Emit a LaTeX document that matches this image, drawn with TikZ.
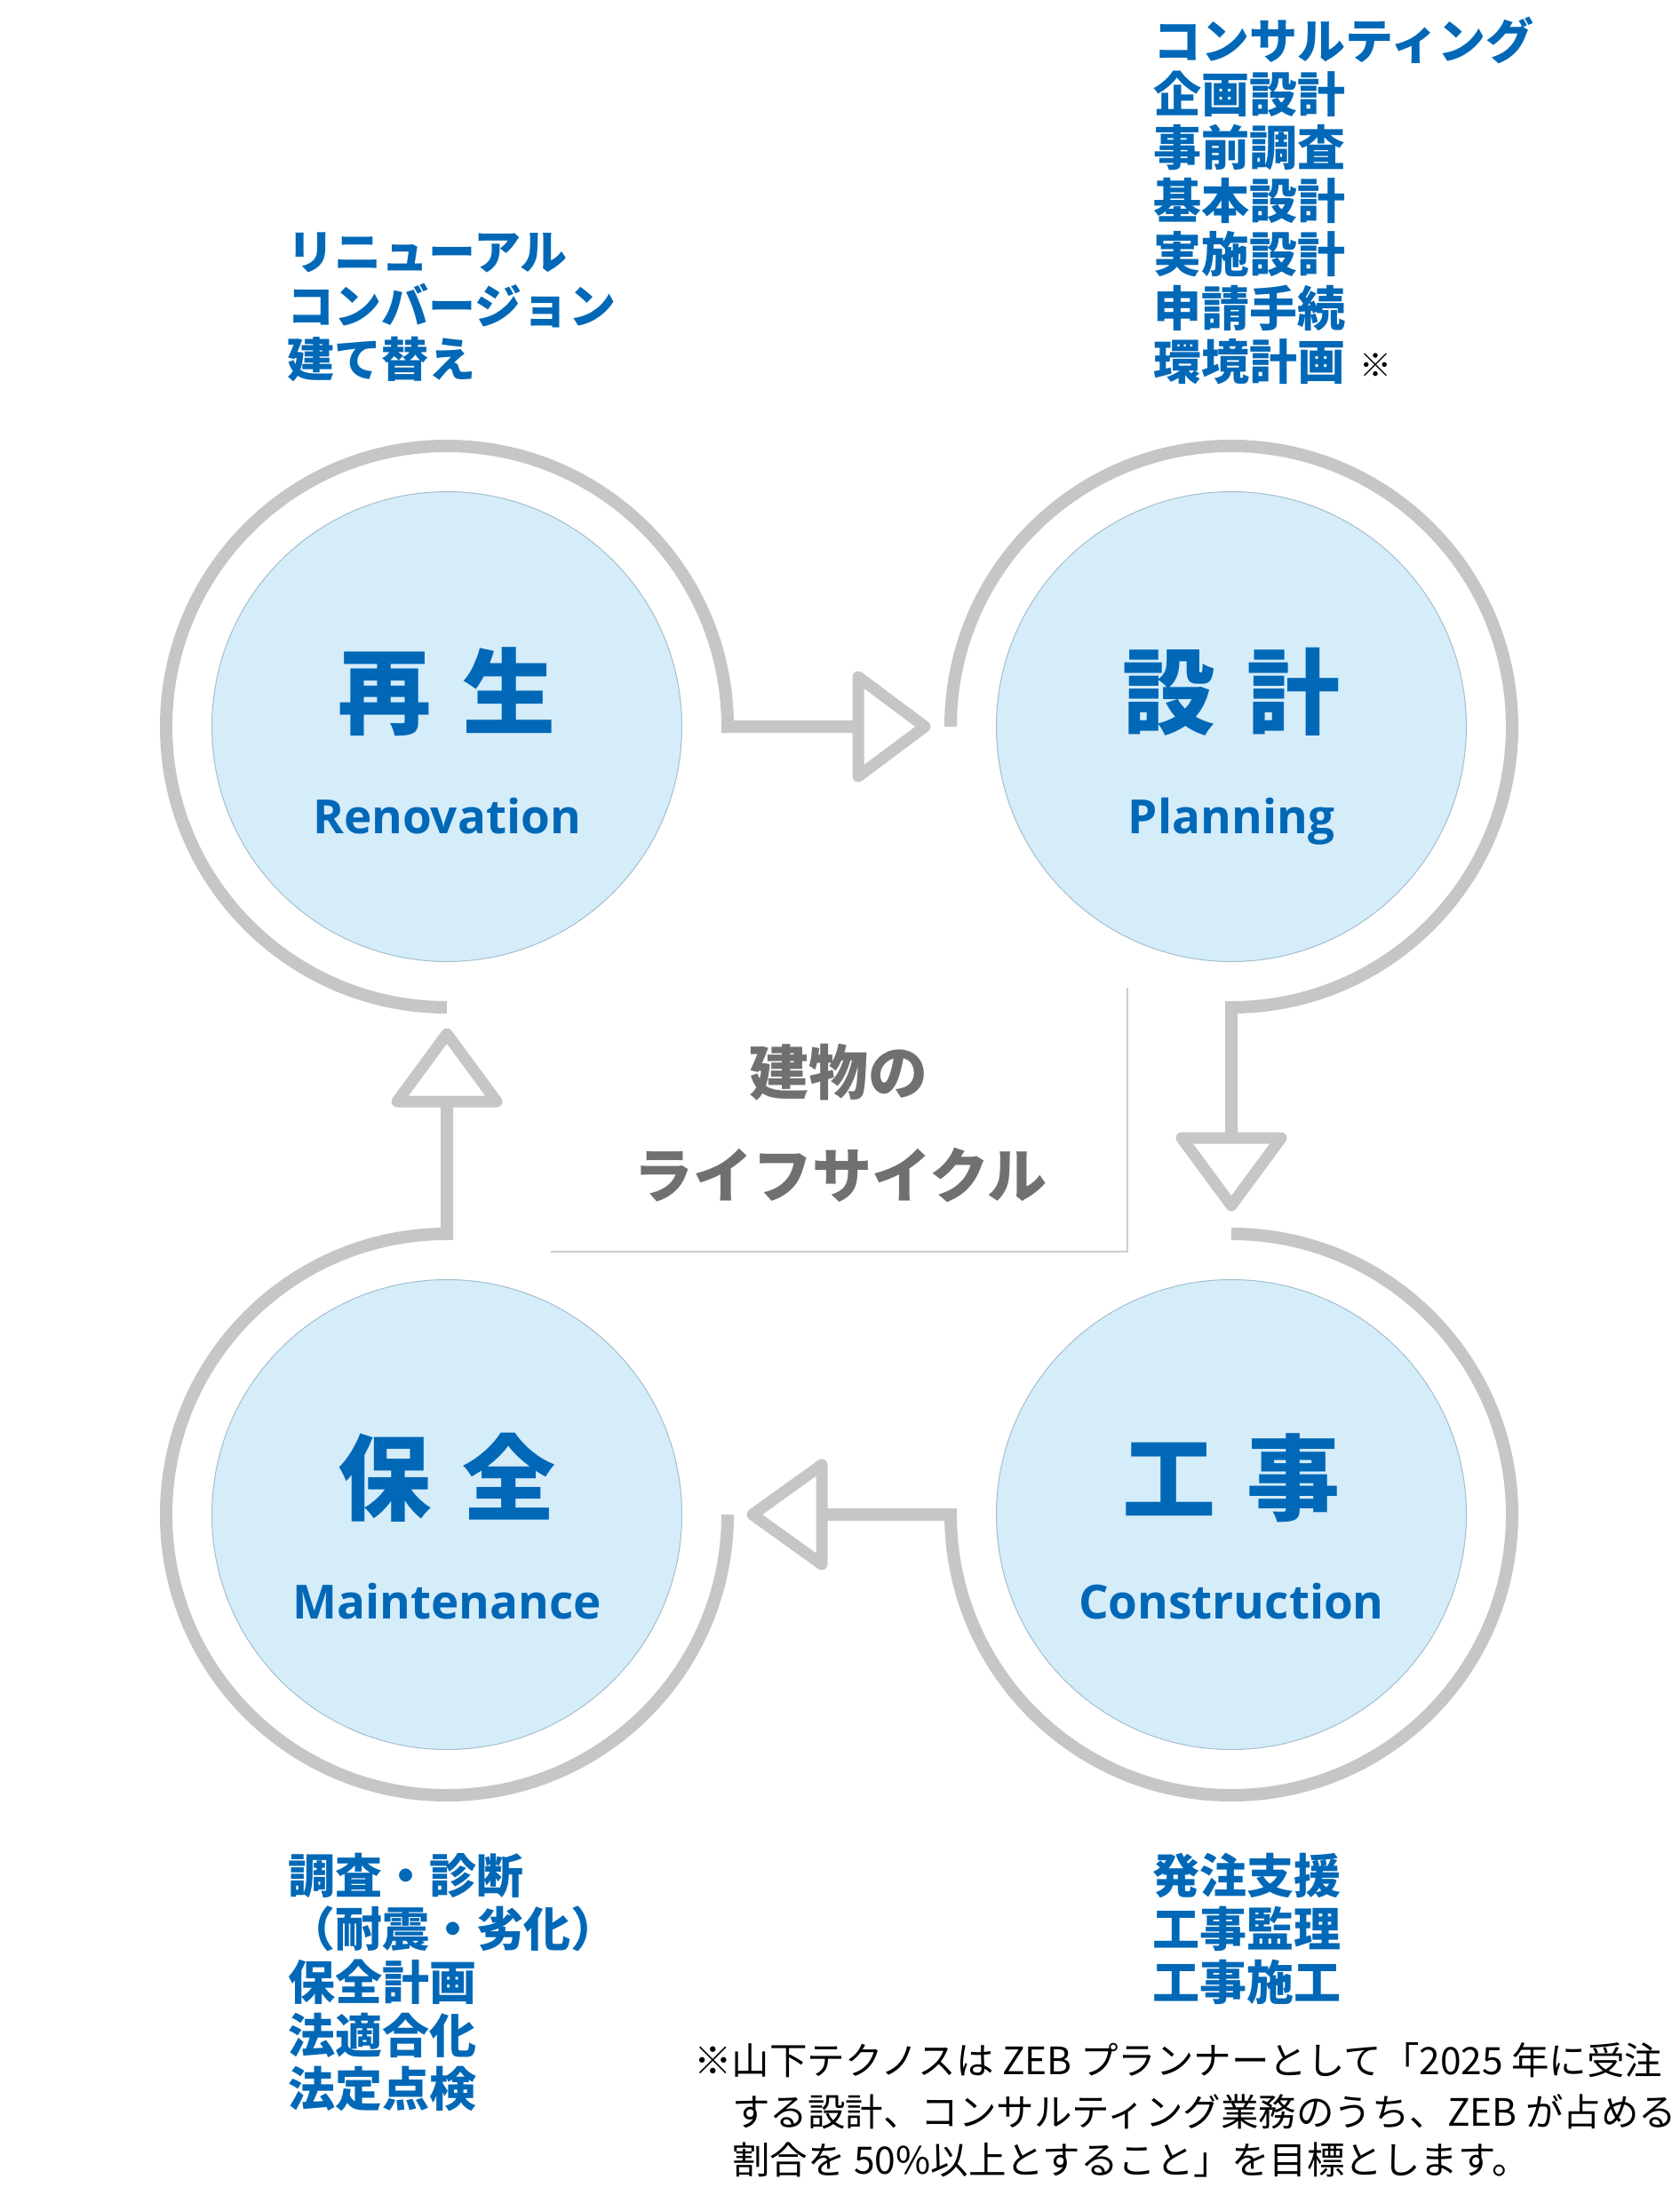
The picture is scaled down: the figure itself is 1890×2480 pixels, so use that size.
\documentclass[tikz,border=0pt]{standalone}
\usepackage{fontspec}
\newfontfamily\jp{Noto Sans CJK JP}
\newfontfamily\en{Open Sans}
\definecolor{ringgray}{RGB}{198,198,198}
\definecolor{stagefill}{RGB}{213,236,249}
\definecolor{stageedge}{RGB}{165,190,205}
\definecolor{jblue}{RGB}{0,104,183}
\definecolor{midgray}{RGB}{112,112,112}
\definecolor{boxgray}{RGB}{205,205,205}
\tikzset{
  ring/.style={draw=ringgray, line width=14pt, line cap=butt, line join=miter},
  head/.style={draw=ringgray, line width=13pt, fill=white, line join=round},
  stage/.style={circle, fill=stagefill, draw=stageedge, line width=1pt, minimum size=529pt, inner sep=0pt},
  ttl/.style={font=\jp\bfseries\fontsize{105pt}{110pt}\selectfont, text=jblue, anchor=base, inner sep=0pt},
  eng/.style={font=\en\bfseries\fontsize{53pt}{60pt}\selectfont, text=jblue, anchor=base, inner sep=0pt},
  blk/.style={font=\jp\bfseries\fontsize{53pt}{60pt}\selectfont, text=jblue, anchor=base west, inner sep=0pt},
  blkr/.style={font=\jp\bfseries\fontsize{54pt}{60pt}\selectfont, text=jblue, anchor=base west, inner sep=0pt},
  mid/.style={font=\jp\bfseries\fontsize{67pt}{70pt}\selectfont, text=midgray, anchor=base, inner sep=0pt},
  note/.style={font=\jp\fontsize{42.5pt}{50pt}\selectfont, text=black, anchor=base west, inner sep=0pt},
  boxline/.style={draw=boxgray, line width=1.5pt}
}
\begin{document}
\begin{tikzpicture}[x=1pt,y=1pt]
\fill[white] (0,0) rectangle (1890,-2480);
\useasboundingbox (0,0) rectangle (1890,-2480);

% stage circles
\node[stage] (ren) at (503,-818) {};
\node[stage] (pla) at (1386,-818) {};
\node[stage] (mai) at (503,-1705) {};
\node[stage] (con) at (1386,-1705) {};

% arrow base coordinates
\coordinate (h1) at (966,-818);
\coordinate (h2) at (1386,-1281);
\coordinate (h3) at (925,-1705);
\coordinate (h4) at (503,-1240);

% rings with connectors
\draw[ring] ([yshift=-316pt]ren.center) arc[start angle=270, end angle=0, radius=316pt] -- (h1);
\draw[head] ([yshift=56pt]h1) -- ([xshift=75pt]h1) -- ([yshift=-56pt]h1) -- cycle;

\draw[ring] ([xshift=-316pt]pla.center) arc[start angle=180, end angle=-90, radius=316pt] -- (h2);
\draw[head] ([xshift=-56pt]h2) -- ([yshift=-76pt]h2) -- ([xshift=56pt]h2) -- cycle;

\draw[ring] ([yshift=316pt]con.center) arc[start angle=90, end angle=-180, radius=316pt] -- (h3);
\draw[head] ([yshift=56pt]h3) -- ([xshift=-78pt]h3) -- ([yshift=-56pt]h3) -- cycle;

\draw[ring] ([xshift=316pt]mai.center) arc[start angle=0, end angle=-270, radius=316pt] -- (h4);
\draw[head] ([xshift=-56pt]h4) -- ([yshift=76pt]h4) -- ([xshift=56pt]h4) -- cycle;

% center box edges
\draw[boxline] (620,-1409) -- (1269,-1409) -- (1269,-1112);

% titles
\node[ttl] (ren-t) at (ren.center) {再\hspace{0.34em}生};
\node[ttl] (pla-t) at (pla.center) {設\hspace{0.34em}計};
\node[ttl] (mai-t) at ([yshift=2pt]mai.center) {保\hspace{0.34em}全};
\node[ttl] (con-t) at ([yshift=2pt]con.center) {工\hspace{0.34em}事};
\node[eng] (ren-e) at ([yshift=-120pt]ren.center) {Renovation};
\node[eng] (pla-e) at ([yshift=-120pt]pla.center) {Planning};
\node[eng] (mai-e) at ([yshift=-117pt]mai.center) {Maintenance};
\node[eng] (con-e) at ([yshift=-117pt]con.center) {Construction};

% center text
\node[mid] (c1) at (944,-1232) {建物の};
\node[mid] (c2) at (946,-1348) {ライフサイクル};

% top-left block
\node[blk] (tl1) at (323,-304) {リニューアル};
\node[blk] (tl2) at (323,-364) {コンバージョン};
\node[blk] (tl3) at (323,-424) {建て替え};

% top-right block
\node[blkr] (tr1) at (1298,-67) {コンサルティング};
\node[blkr] (tr2) at (1298,-127) {企画設計};
\node[blkr] (tr3) at (1298,-187) {事前調査};
\node[blkr] (tr4) at (1298,-247) {基本設計};
\node[blkr] (tr5) at (1298,-307) {実施設計};
\node[blkr] (tr6) at (1298,-367) {申請手続};
\node[blkr] (tr7) at (1298,-427) {環境計画};
\node[font=\jp\fontsize{36pt}{40pt}\selectfont, text=black, anchor=base west, inner sep=0pt] (mark) at (1530,-424) {※};

% bottom-left block
\node[blk] (bl1) at (324,-2131) {調査・診断};
\node[blk] (bl2) at (324,-2191) {（耐震・劣化）};
\node[blk] (bl3) at (324,-2251) {保全計画};
\node[blk] (bl4) at (324,-2311) {法適合化};
\node[blk] (bl5) at (324,-2371) {法定点検};

% bottom-right block
\node[blk] (br1) at (1297,-2131) {発注支援};
\node[blk] (br2) at (1297,-2191) {工事監理};
\node[blk] (br3) at (1297,-2251) {工事施工};

% footnote
\node[note] (n1) at (781,-2335) {※山下テクノスは ZEB プランナーとして「2025 年に受注};
\node[note] (n2) at (824,-2393) {する設計、コンサルティング業務のうち、ZEB が占める};
\node[note] (n3) at (824,-2447) {割合を 50\%以上とすること」を目標とします。};
\end{tikzpicture}
\end{document}
